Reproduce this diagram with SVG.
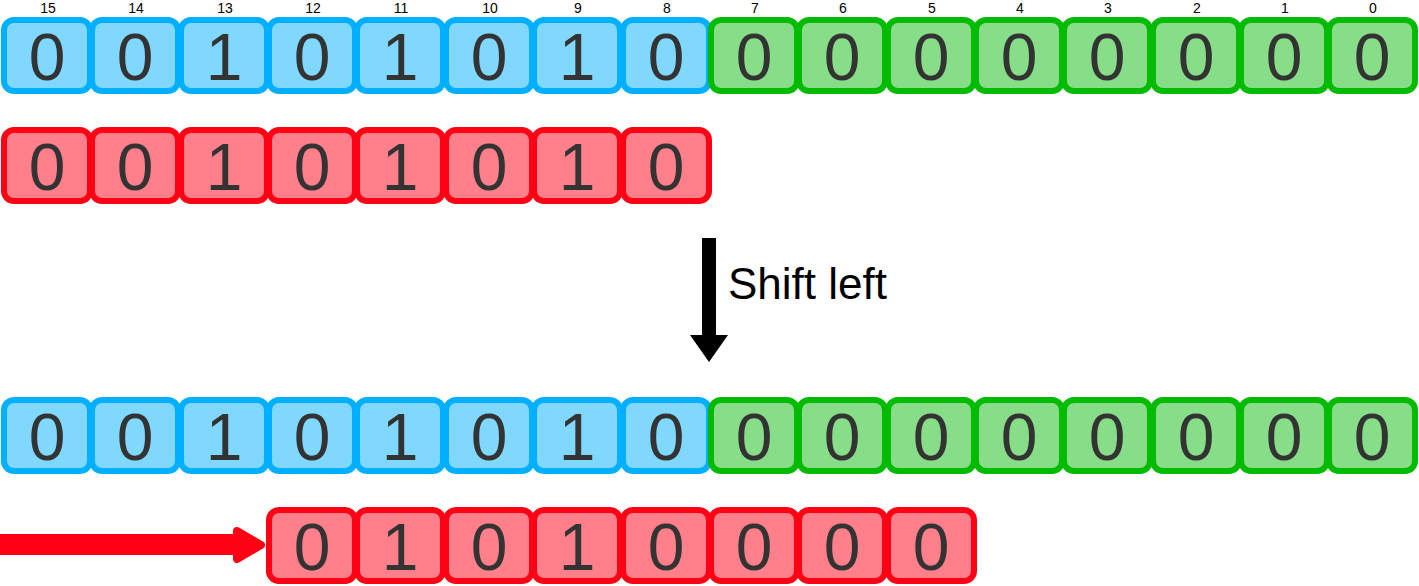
<svg xmlns="http://www.w3.org/2000/svg" width="1419" height="586" viewBox="0 0 1419 586">
<style>
.c rect{stroke-width:6;rx:10;ry:10}
.b rect{fill:#80d8ff;stroke:#00b0ff}
.g rect{fill:#88dd88;stroke:#00bb00}
.r rect{fill:#ff808a;stroke:#ff0015}
.c text{font-family:"Liberation Sans",Arial,sans-serif;font-size:66px;fill:#333;text-anchor:middle}
.lbl{font-family:"Liberation Sans",Arial,sans-serif;font-size:14px;fill:#000;text-anchor:middle}
.sl{font-family:"Liberation Sans",Arial,sans-serif;font-size:44px;fill:#000}
</style>
<rect width="1419" height="586" fill="#fff"/>
<g id="labels">
<text class="lbl" x="48" y="13">15</text>
<text class="lbl" x="136" y="13">14</text>
<text class="lbl" x="225" y="13">13</text>
<text class="lbl" x="313" y="13">12</text>
<text class="lbl" x="401" y="13">11</text>
<text class="lbl" x="490" y="13">10</text>
<text class="lbl" x="578" y="13">9</text>
<text class="lbl" x="667" y="13">8</text>
<text class="lbl" x="755" y="13">7</text>
<text class="lbl" x="843" y="13">6</text>
<text class="lbl" x="932" y="13">5</text>
<text class="lbl" x="1020" y="13">4</text>
<text class="lbl" x="1108" y="13">3</text>
<text class="lbl" x="1197" y="13">2</text>
<text class="lbl" x="1285" y="13">1</text>
<text class="lbl" x="1373" y="13">0</text>
</g>
<g id="row1">
<g id="r1c15" class="c b"><rect x="4" y="20" width="86" height="71"/><text x="47" y="80">0</text></g>
<g id="r1c14" class="c b"><rect x="92" y="20" width="86" height="71"/><text x="135" y="80">0</text></g>
<g id="r1c13" class="c b"><rect x="181" y="20" width="86" height="71"/><text x="224" y="80">1</text></g>
<g id="r1c12" class="c b"><rect x="269" y="20" width="86" height="71"/><text x="312" y="80">0</text></g>
<g id="r1c11" class="c b"><rect x="357" y="20" width="86" height="71"/><text x="400" y="80">1</text></g>
<g id="r1c10" class="c b"><rect x="446" y="20" width="86" height="71"/><text x="489" y="80">0</text></g>
<g id="r1c9" class="c b"><rect x="534" y="20" width="86" height="71"/><text x="577" y="80">1</text></g>
<g id="r1c8" class="c b"><rect x="623" y="20" width="86" height="71"/><text x="666" y="80">0</text></g>
<g id="r1c7" class="c g"><rect x="711" y="20" width="86" height="71"/><text x="754" y="80">0</text></g>
<g id="r1c6" class="c g"><rect x="799" y="20" width="86" height="71"/><text x="842" y="80">0</text></g>
<g id="r1c5" class="c g"><rect x="888" y="20" width="86" height="71"/><text x="931" y="80">0</text></g>
<g id="r1c4" class="c g"><rect x="976" y="20" width="86" height="71"/><text x="1019" y="80">0</text></g>
<g id="r1c3" class="c g"><rect x="1064" y="20" width="86" height="71"/><text x="1107" y="80">0</text></g>
<g id="r1c2" class="c g"><rect x="1153" y="20" width="86" height="71"/><text x="1196" y="80">0</text></g>
<g id="r1c1" class="c g"><rect x="1241" y="20" width="86" height="71"/><text x="1284" y="80">0</text></g>
<g id="r1c0" class="c g"><rect x="1329" y="20" width="86" height="71"/><text x="1372" y="80">0</text></g>
</g>
<g id="row2">
<g id="r2c15" class="c r"><rect x="4" y="130" width="86" height="71"/><text x="47" y="190">0</text></g>
<g id="r2c14" class="c r"><rect x="92" y="130" width="86" height="71"/><text x="135" y="190">0</text></g>
<g id="r2c13" class="c r"><rect x="181" y="130" width="86" height="71"/><text x="224" y="190">1</text></g>
<g id="r2c12" class="c r"><rect x="269" y="130" width="86" height="71"/><text x="312" y="190">0</text></g>
<g id="r2c11" class="c r"><rect x="357" y="130" width="86" height="71"/><text x="400" y="190">1</text></g>
<g id="r2c10" class="c r"><rect x="446" y="130" width="86" height="71"/><text x="489" y="190">0</text></g>
<g id="r2c9" class="c r"><rect x="534" y="130" width="86" height="71"/><text x="577" y="190">1</text></g>
<g id="r2c8" class="c r"><rect x="623" y="130" width="86" height="71"/><text x="666" y="190">0</text></g>
</g>
<g id="row3">
<g id="r3c15" class="c b"><rect x="4" y="400" width="86" height="71"/><text x="47" y="460">0</text></g>
<g id="r3c14" class="c b"><rect x="92" y="400" width="86" height="71"/><text x="135" y="460">0</text></g>
<g id="r3c13" class="c b"><rect x="181" y="400" width="86" height="71"/><text x="224" y="460">1</text></g>
<g id="r3c12" class="c b"><rect x="269" y="400" width="86" height="71"/><text x="312" y="460">0</text></g>
<g id="r3c11" class="c b"><rect x="357" y="400" width="86" height="71"/><text x="400" y="460">1</text></g>
<g id="r3c10" class="c b"><rect x="446" y="400" width="86" height="71"/><text x="489" y="460">0</text></g>
<g id="r3c9" class="c b"><rect x="534" y="400" width="86" height="71"/><text x="577" y="460">1</text></g>
<g id="r3c8" class="c b"><rect x="623" y="400" width="86" height="71"/><text x="666" y="460">0</text></g>
<g id="r3c7" class="c g"><rect x="711" y="400" width="86" height="71"/><text x="754" y="460">0</text></g>
<g id="r3c6" class="c g"><rect x="799" y="400" width="86" height="71"/><text x="842" y="460">0</text></g>
<g id="r3c5" class="c g"><rect x="888" y="400" width="86" height="71"/><text x="931" y="460">0</text></g>
<g id="r3c4" class="c g"><rect x="976" y="400" width="86" height="71"/><text x="1019" y="460">0</text></g>
<g id="r3c3" class="c g"><rect x="1064" y="400" width="86" height="71"/><text x="1107" y="460">0</text></g>
<g id="r3c2" class="c g"><rect x="1153" y="400" width="86" height="71"/><text x="1196" y="460">0</text></g>
<g id="r3c1" class="c g"><rect x="1241" y="400" width="86" height="71"/><text x="1284" y="460">0</text></g>
<g id="r3c0" class="c g"><rect x="1329" y="400" width="86" height="71"/><text x="1372" y="460">0</text></g>
</g>
<g id="row4">
<g id="r4c0" class="c r"><rect x="269" y="510" width="86" height="71"/><text x="312" y="570">0</text></g>
<g id="r4c1" class="c r"><rect x="357" y="510" width="86" height="71"/><text x="400" y="570">1</text></g>
<g id="r4c2" class="c r"><rect x="446" y="510" width="86" height="71"/><text x="489" y="570">0</text></g>
<g id="r4c3" class="c r"><rect x="534" y="510" width="86" height="71"/><text x="577" y="570">1</text></g>
<g id="r4c4" class="c r"><rect x="623" y="510" width="86" height="71"/><text x="666" y="570">0</text></g>
<g id="r4c5" class="c r"><rect x="711" y="510" width="86" height="71"/><text x="754" y="570">0</text></g>
<g id="r4c6" class="c r"><rect x="799" y="510" width="86" height="71"/><text x="842" y="570">0</text></g>
<g id="r4c7" class="c r"><rect x="888" y="510" width="86" height="71"/><text x="931" y="570">0</text></g>
</g>
<g id="connectors">
<g id="shift-arrow">
<rect x="702" y="238" width="14" height="99" fill="#000"/>
<polygon points="690,335 728,335 709,362" fill="#000"/>
</g>
<text class="sl" x="728" y="299">Shift left</text>
<g id="red-arrow">
<rect x="0" y="534" width="242" height="21" fill="#ff0015"/>
<polygon points="237,531 261,545 237,559" fill="#ff0015" stroke="#ff0015" stroke-width="8" stroke-linejoin="round"/>
</g>
</g>
</svg>
